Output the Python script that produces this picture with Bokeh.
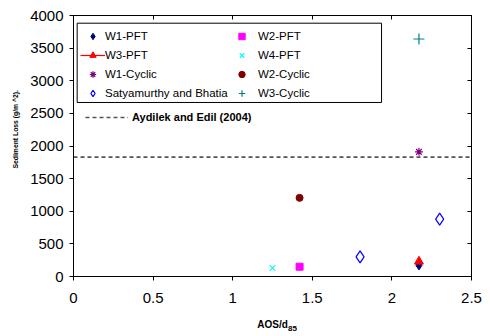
from bokeh.plotting import figure
from bokeh.models import (Legend, LegendItem, LinearAxis, FixedTicker, Title,
                          NumeralTickFormatter, Range1d, BoxAnnotation,
                          CustomJSTickFormatter)
from bokeh.embed import file_html
from bokeh.resources import INLINE

# ---- data ----
w1_pft_x = [2.17]; w1_pft_y = [170]
w2_pft_x = [1.42]; w2_pft_y = [150]
w3_pft_x = [2.17]; w3_pft_y = [230]
w4_pft_x = [1.25]; w4_pft_y = [130]
w1_cyc_x = [2.17]; w1_cyc_y = [1910]
w2_cyc_x = [1.42]; w2_cyc_y = [1205]
w3_cyc_x = [2.17]; w3_cyc_y = [3640]
saty_x = [1.80, 2.30]; saty_y = [300, 880]
aydilek_y = 1830
x_ticks = [0, 0.5, 1, 1.5, 2, 2.5]
y_ticks = [0, 500, 1000, 1500, 2000, 2500, 3000, 3500, 4000]
x_min, x_max = 0, 2.5
y_min, y_max = 0, 4000

FONT = "Liberation Sans"

p = figure(frame_width=398, frame_height=261, output_backend="svg",
           toolbar_location=None, x_range=Range1d(x_min, x_max),
           y_range=Range1d(y_min, y_max),
           min_border_left=73, min_border_right=19, min_border_top=15,
           min_border_bottom=60, background_fill_color="white",
           border_fill_color="white")
p.xgrid.visible = False
p.ygrid.visible = False
p.outline_line_color = "black"
p.outline_line_width = 1

for ax, ticks in ((p.xaxis[0], x_ticks), (p.yaxis[0], y_ticks)):
    ax.ticker = FixedTicker(ticks=ticks)
    ax.major_tick_in = 0
    ax.major_tick_out = 4
    ax.minor_tick_line_color = None
    ax.axis_line_color = "black"
    ax.major_tick_line_color = "black"
    ax.major_label_text_font = FONT
    ax.major_label_text_font_size = "15px"
    ax.major_label_text_color = "black"
p.xaxis[0].formatter = NumeralTickFormatter(format="0.[0]")
p.xaxis[0].major_label_standoff = 12
p.yaxis[0].major_label_standoff = 6

p.xaxis[0].axis_label = "AOS/d"
p.xaxis[0].axis_label_text_font = FONT
p.xaxis[0].axis_label_text_font_size = "10px"
p.xaxis[0].axis_label_text_font_style = "bold"
p.xaxis[0].axis_label_text_color = "black"
p.xaxis[0].axis_label_standoff = 13

# subscript "85" of the x-axis title, drawn as the single label of a bare axis
sub_pos = 1.375
sub_axis = LinearAxis(ticker=FixedTicker(ticks=[sub_pos]),
                      formatter=CustomJSTickFormatter(code="return '85'"),
                      axis_line_color=None, major_tick_line_color=None,
                      major_tick_in=0, major_tick_out=0, minor_tick_line_color=None,
                      major_label_standoff=-7, major_label_text_font=FONT,
                      major_label_text_font_size="8px",
                      major_label_text_font_style="bold",
                      major_label_text_color="black")
p.add_layout(sub_axis, "below")

# inward ticks on top and right
top = LinearAxis(ticker=FixedTicker(ticks=x_ticks), major_tick_in=4, major_tick_out=0,
                 minor_tick_line_color=None, major_label_text_color=None,
                 major_label_text_font_size="1px", axis_line_color="black")
right = LinearAxis(ticker=FixedTicker(ticks=y_ticks), major_tick_in=4, major_tick_out=0,
                   minor_tick_line_color=None, major_label_text_color=None,
                   major_label_text_font_size="1px", axis_line_color="black")
p.add_layout(top, "above")
p.add_layout(right, "right")

p.add_layout(Title(text="Sediment Loss (g/m ^2).", align="left", offset=108,
                   vertical_align="middle", standoff=15, text_font=FONT,
                   text_font_size="6.8px", text_font_style="bold",
                   text_color="black"), "left")

# reference line
r_ay = p.line(x=[x_min, x_max], y=[aydilek_y, aydilek_y], line_color="#555555",
              line_width=1.6, line_dash="4 3")

r_w1 = p.scatter(w1_pft_x, w1_pft_y, marker="diamond", size=9, fill_color="#000080",
                 line_color="#000080")
r_w2 = p.scatter(w2_pft_x, w2_pft_y, marker="square", size=7, fill_color="#FF00FF",
                 line_color="#FF00FF")
r_w3l = p.line(w3_pft_x, w3_pft_y, line_color="#FF0000", line_width=1.2)
r_w3 = p.scatter(w3_pft_x, w3_pft_y, marker="triangle", size=9, fill_color="#FF0000",
                 line_color="#FF0000")
r_w4 = p.scatter(w4_pft_x, w4_pft_y, marker="x", size=8, line_color="#00FFFF",
                 line_width=1.2)
r_c1 = p.scatter(w1_cyc_x, w1_cyc_y, marker="asterisk", size=8, line_color="#800080",
                 line_width=1.2)
r_c2 = p.scatter(w2_cyc_x, w2_cyc_y, marker="circle", size=7, fill_color="#800000",
                 line_color="#800000")
r_sa = p.scatter(saty_x, saty_y, marker="diamond", size=12, fill_color=None,
                 line_color="#0000FF", line_width=1.2)
r_c3 = p.scatter(w3_cyc_x, w3_cyc_y, marker="cross", size=11, line_color="#008080",
                 line_width=1.2)

# legend frame (in data units of the plot area)
p.add_layout(BoxAnnotation(left=0.023, right=1.935, top=3882, bottom=2667,
                           fill_color="white", fill_alpha=1, line_color="black",
                           line_width=1, line_alpha=1, level="annotation"))

common = dict(padding=0, spacing=3, glyph_height=16, label_height=16,
              label_text_font=FONT, label_text_font_size="11.5px",
              label_text_color="black", border_line_color=None,
              background_fill_alpha=0, margin=0)
leg1 = Legend(items=[
    LegendItem(label="W1-PFT", renderers=[r_w1]),
    LegendItem(label="W3-PFT", renderers=[r_w3l, r_w3]),
    LegendItem(label="W1-Cyclic", renderers=[r_c1]),
    LegendItem(label="Satyamurthy and Bhatia", renderers=[r_sa]),
], location=(7, 175), glyph_width=25, label_standoff=0, **common)
leg2 = Legend(items=[
    LegendItem(label="W2-PFT", renderers=[r_w2]),
    LegendItem(label="W4-PFT", renderers=[r_w4]),
    LegendItem(label="W2-Cyclic", renderers=[r_c2]),
    LegendItem(label="W3-Cyclic", renderers=[r_c3]),
], location=(156, 175), glyph_width=25, label_standoff=4, **common)
p.add_layout(leg1, "center")
p.add_layout(leg2, "center")

leg3 = Legend(items=[LegendItem(label="Aydilek and Edil (2004)", renderers=[r_ay])],
              location=(12, 152), padding=0, spacing=0, glyph_width=43, glyph_height=14,
              label_height=14, label_standoff=4, label_text_font=FONT,
              label_text_font_size="11px", label_text_font_style="bold",
              label_text_color="black", border_line_color=None,
              background_fill_alpha=0, margin=0)
p.add_layout(leg3, "center")

open("out.html", "w").write(file_html(p, INLINE))
